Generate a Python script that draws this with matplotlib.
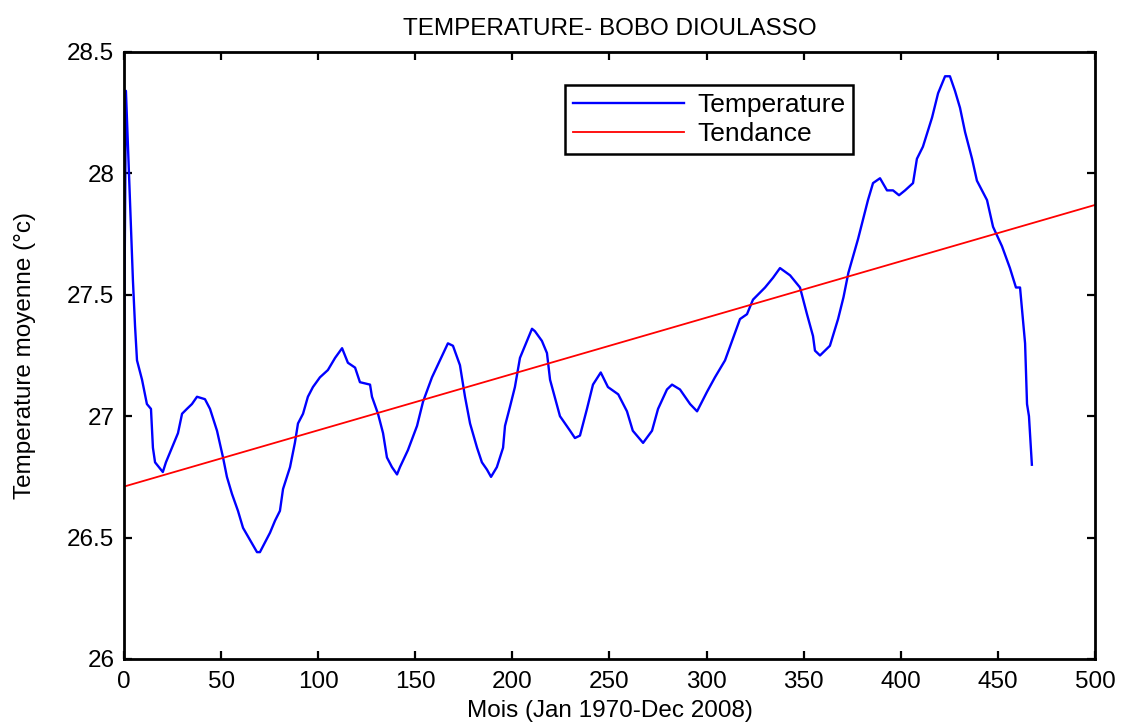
import matplotlib
matplotlib.use("Agg")
import matplotlib.pyplot as plt

# Monthly temperature series (smoothed), Bobo Dioulasso, Jan 1970 - Dec 2008
months = [
    0, 1, 4.6, 5.7, 6.7, 9.3, 11.8, 13.9, 14.9, 16, 20, 21.6, 24.7, 27.8, 29.9,
    32.4, 35, 37.6, 41.7, 44.3, 47.9, 51, 53, 55.6, 58.7, 61.3, 64.9, 68.5, 70,
    72.6, 75.2, 77.8, 80.3, 81.9, 85.5, 88, 89.6, 92.2, 94.7, 97.3, 100.9, 105,
    108.7, 112.3, 115.3, 119, 121.5, 126.7, 127.7, 130.8, 133.4, 135.4, 138,
    140.6, 142.1, 146.2, 150.9, 154, 158.6, 162.7, 166.8, 169.4, 173, 175.6,
    178.2, 181.8, 184.3, 186.9, 189, 192, 195.2, 196.2, 198.8, 201.3, 203.9,
    207.5, 210.1, 211.6, 215.2, 217.8, 219.4, 224.5, 229.7, 232.2, 234.8, 238.4,
    241.5, 245.5, 249.2, 254.5, 259, 262, 267.3, 271.9, 275, 279.6, 282.2,
    286.3, 291.5, 295.1, 300.2, 304.3, 309.5, 313.1, 317.2, 320.8, 323.9,
    330.1, 334.2, 337.8, 343, 348.1, 351.7, 354.8, 355.8, 358.4, 363.5, 367.7,
    370.5, 373, 378, 383.1, 385.7, 389.3, 392.9, 396, 399.1, 402.2, 406.3,
    408.3, 411.4, 416.1, 419.2, 422.8, 425.3, 427.9, 430.5, 433.1, 436.7,
    439.2, 444.4, 447.5, 452.1, 456.2, 459.3, 461.4, 464, 465, 466, 467.5,
]
temperature = [
    27.20, 28.34, 27.56, 27.37, 27.23, 27.15, 27.05, 27.03, 26.87, 26.81, 26.77,
    26.81, 26.87, 26.93, 27.01, 27.03, 27.05, 27.08, 27.07, 27.03, 26.94, 26.83,
    26.75, 26.68, 26.61, 26.54, 26.49, 26.44, 26.44, 26.48, 26.52, 26.57, 26.61,
    26.70, 26.79, 26.89, 26.97, 27.01, 27.08, 27.12, 27.16, 27.19, 27.24, 27.28,
    27.22, 27.20, 27.14, 27.13, 27.08, 27.01, 26.93, 26.83, 26.79, 26.76, 26.79,
    26.86, 26.96, 27.06, 27.16, 27.23, 27.30, 27.29, 27.21, 27.08, 26.97, 26.87,
    26.81, 26.78, 26.75, 26.79, 26.87, 26.96, 27.04, 27.12, 27.24, 27.31, 27.36,
    27.35, 27.31, 27.26, 27.15, 27.00, 26.94, 26.91, 26.92, 27.03, 27.13, 27.18,
    27.12, 27.09, 27.02, 26.94, 26.89, 26.94, 27.03, 27.11, 27.13, 27.11, 27.05,
    27.02, 27.10, 27.16, 27.23, 27.31, 27.40, 27.42, 27.48, 27.53, 27.57, 27.61,
    27.58, 27.53, 27.42, 27.33, 27.27, 27.25, 27.29, 27.40, 27.49, 27.59, 27.73,
    27.89, 27.96, 27.98, 27.93, 27.93, 27.91, 27.93, 27.96, 28.06, 28.11, 28.23,
    28.33, 28.40, 28.40, 28.34, 28.27, 28.17, 28.06, 27.97, 27.89, 27.78, 27.70,
    27.61, 27.53, 27.53, 27.30, 27.05, 27.00, 26.80,
]

# Linear trend endpoints
trend_months = [0, 500]
trend_values = [26.71, 27.87]

x_ticks = [0, 50, 100, 150, 200, 250, 300, 350, 400, 450, 500]
y_ticks = [26, 26.5, 27, 27.5, 28, 28.5]
y_tick_labels = ["26", "26.5", "27", "27.5", "28", "28.5"]

plt.rcParams["font.family"] = ["Liberation Sans", "DejaVu Sans"]

fig = plt.figure(figsize=(11.21, 7.22), dpi=100)
ax = fig.add_axes([0.1106, 0.0873, 0.8662, 0.8407])

ax.plot(months, temperature, color="#0000ff", lw=1.7, label="Temperature")
ax.plot(trend_months, trend_values, color="#ff0000", lw=1.3, label="Tendance")

ax.set_xlim(0, 500)
ax.set_ylim(26, 28.5)
ax.set_xticks(x_ticks)
ax.set_yticks(y_ticks)
ax.set_yticklabels(y_tick_labels)

ax.tick_params(direction="in", length=6, width=1.6, top=True, right=True,
               labelsize=17.5, colors="black")
ax.tick_params(axis="y", pad=7)
ax.tick_params(axis="x", pad=9)
for sp in ax.spines.values():
    sp.set_linewidth(2.0)
    sp.set_color("black")

ax.set_title("TEMPERATURE- BOBO DIOULASSO", fontsize=17.5, pad=12)
ax.set_xlabel("Mois (Jan 1970-Dec 2008)", fontsize=17.5, labelpad=5)
ax.set_ylabel("Temperature moyenne (°c)", fontsize=17.5, labelpad=22)

leg = ax.legend(loc="upper left", bbox_to_anchor=(0.504, 0.882),
                bbox_transform=fig.transFigure, fontsize=19, frameon=True,
                fancybox=False, framealpha=1, handlelength=4.2,
                handletextpad=0.5, borderpad=0.3, labelspacing=0.2,
                borderaxespad=0)
leg.get_frame().set_edgecolor("black")
leg.get_frame().set_linewidth(1.8)

fig.savefig("out.png", dpi=100)
